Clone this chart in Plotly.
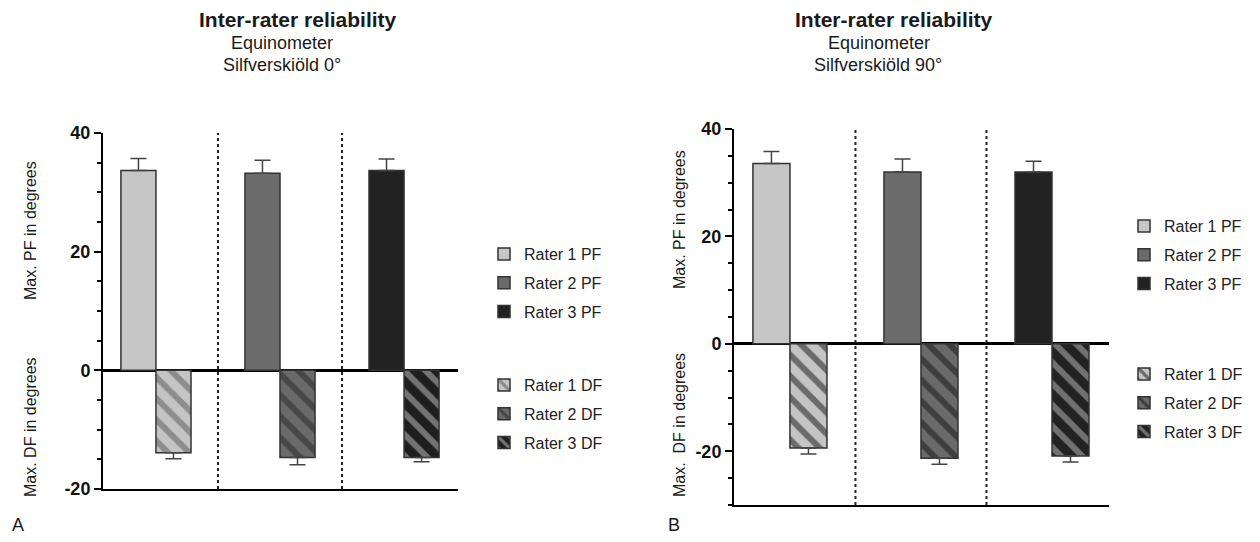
import plotly.graph_objects as go

# ---------------- data ----------------
groups = [0, 1, 2]
raters = ["Rater 1", "Rater 2", "Rater 3"]

# Panel A: Silfverskiöld 0°
a_pf = [33.7, 33.2, 33.7]
a_pf_err = [2.0, 2.2, 1.9]
a_df = [-13.9, -14.7, -14.7]
a_df_err = [1.0, 1.2, 0.7]

# Panel B: Silfverskiöld 90°
b_pf = [33.6, 32.0, 32.0]
b_pf_err = [2.2, 2.4, 2.0]
b_df = [-19.4, -21.3, -20.9]
b_df_err = [1.1, 1.1, 1.1]

a_tickvals = [-20, 0, 20, 40]
a_ticktext = ["-20", "0", "20", "40"]
b_tickvals = [-20, 0, 20, 40]
b_ticktext = ["-20", "0", "20", "40"]

# ---------------- styles ----------------
FONT = "Liberation Sans, Arial, Helvetica, sans-serif"
pf_colors = ["#c6c6c6", "#6b6b6b", "#222222"]
a_df_bg = ["#c4c4c4", "#6a6a6a", "#1e1e1e"]
a_df_fg = ["#555555", "#262626", "#c8c8c8"]
b_df_bg = ["#c4c4c4", "#6a6a6a", "#222222"]
b_df_fg = ["#111111", "#111111", "#c0c0c0"]
OUTLINE = "#333333"
PAGE_OFF = 8                      # default page body margin
W, H = 1260 - 2 * PAGE_OFF, 542 - 2 * PAGE_OFF

fig = go.Figure()


def add_panel(pf, pf_err, df, df_err, df_bg, df_fg, xa, ya, leg_pf, leg_df):
    for i in range(3):
        fig.add_trace(go.Bar(
            x=[groups[i]], y=[pf[i]], name=f"{raters[i]} PF",
            xaxis=xa, yaxis=ya, offsetgroup="pf", legend=leg_pf,
            legendgroup=f"{leg_pf}_{i}",
            marker=dict(color=pf_colors[i], line=dict(color=OUTLINE, width=1.5)),
            error_y=dict(type="data", array=[pf_err[i]], arrayminus=[0], symmetric=False,
                         color="#444444", thickness=1.5, width=8),
        ))
    for i in range(3):
        fig.add_trace(go.Bar(
            x=[groups[i]], y=[df[i]], name=f"{raters[i]} DF",
            xaxis=xa, yaxis=ya, offsetgroup="df", legend=leg_df,
            legendgroup=f"{leg_df}_{i}",
            marker=dict(color=df_bg[i], line=dict(color=OUTLINE, width=1.5),
                        pattern=dict(shape="\\", bgcolor=df_bg[i], fgcolor=df_fg[i],
                                     size=15, solidity=0.4, fillmode="overlay")),
            error_y=dict(type="data", array=[0], arrayminus=[df_err[i]], symmetric=False,
                         color="#444444", thickness=1.5, width=8),
        ))


add_panel(a_pf, a_pf_err, a_df, a_df_err, a_df_bg, a_df_fg, "x", "y", "legend", "legend2")
add_panel(b_pf, b_pf_err, b_df, b_df_err, b_df_bg, b_df_fg, "x2", "y2", "legend3", "legend4")

xrange = [-0.427, 2.435]


def px_x(p):
    return (p - PAGE_OFF) / W


def px_y(p):
    return 1 - (p - PAGE_OFF) / H


xa_common = dict(range=xrange, showline=True, linecolor="black", linewidth=2,
                 showticklabels=False, ticks="", showgrid=False, zeroline=False,
                 fixedrange=True)
ya_common = dict(showline=True, linecolor="black", linewidth=2, ticks="outside",
                 ticklen=7, tickwidth=2, tickcolor="black", showgrid=False,
                 zeroline=True, zerolinecolor="black", zerolinewidth=2.5,
                 tickfont=dict(family=FONT, size=18, color="#111111", weight=700),
                 minor=dict(dtick=5, ticks="outside", ticklen=4, tickwidth=1.5,
                            tickcolor="black", showgrid=False),
                 fixedrange=True)

legend_common = dict(font=dict(family=FONT, size=16, color="#222222"),
                     bgcolor="rgba(0,0,0,0)", xanchor="left", yanchor="top",
                     tracegroupgap=5, traceorder="grouped", itemclick=False)

fig.update_layout(
    width=W, height=H,
    margin=dict(l=0, r=0, t=0, b=0, autoexpand=False),
    paper_bgcolor="white", plot_bgcolor="white",
    barmode="group", bargap=0.435, bargroupgap=0,
    font=dict(family=FONT, color="#222222"),
    xaxis=dict(domain=[px_x(103), px_x(458)], anchor="y", **xa_common),
    yaxis=dict(domain=[px_y(489), px_y(133)], anchor="x", range=[-20, 40],
               tickvals=a_tickvals, ticktext=a_ticktext, **ya_common),
    xaxis2=dict(domain=[px_x(734), px_x(1109)], anchor="y2", **xa_common),
    yaxis2=dict(domain=[px_y(505), px_y(129)], anchor="x2", range=[-30, 40],
                tickvals=b_tickvals, ticktext=b_ticktext, **ya_common),
    legend=dict(x=px_x(484), y=px_y(237), **legend_common),
    legend2=dict(x=px_x(484), y=px_y(368), **legend_common),
    legend3=dict(x=px_x(1124), y=px_y(209), **legend_common),
    legend4=dict(x=px_x(1124), y=px_y(357), **legend_common),
    showlegend=True,
)

# dotted separators between rater groups
for xref, yref, y0, y1 in [("x", "y", -20, 40), ("x2", "y2", -30, 40)]:
    for xv in [0.5, 1.5]:
        fig.add_shape(type="line", xref=xref, yref=yref, x0=xv, x1=xv, y0=y0, y1=y1,
                      line=dict(color="#222222", width=2, dash="dot"))


def ann(text, x, y, size, bold=False, angle=0, anchor="center"):
    fig.add_annotation(text=f"<b>{text}</b>" if bold else text, xref="paper", yref="paper",
                       x=px_x(x), y=px_y(y), xanchor=anchor, yanchor="middle",
                       showarrow=False, textangle=angle,
                       font=dict(family=FONT, size=size, color="#1a1a1a"))


# titles
ann("Inter-rater reliability", 298, 20, 21, bold=True)
ann("Equinometer", 282, 43, 18)
ann("Silfverskiöld 0°", 282, 65, 18)
ann("Inter-rater reliability", 894, 20, 21, bold=True)
ann("Equinometer", 879, 43, 18)
ann("Silfverskiöld 90°", 878, 65, 18)

# axis titles
ann("Max. PF in degrees", 30, 231, 16, angle=-90)
ann("Max. DF in degrees", 30, 427, 16, angle=-90)
ann("Max. PF in degrees", 679, 220, 16, angle=-90)
ann("Max.\u00a0 DF in degrees", 679, 425, 16, angle=-90)

# panel letters
ann("A", 18, 525, 18)
ann("B", 674, 525, 18)

fig.write_html("out.html")
